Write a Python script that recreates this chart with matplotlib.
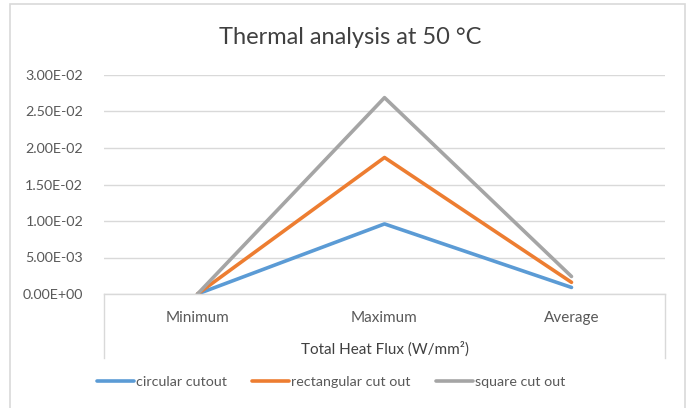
import matplotlib
matplotlib.use("Agg")
import matplotlib.pyplot as plt
from matplotlib.lines import Line2D
from matplotlib.patches import Rectangle

categories = ["Minimum", "Maximum", "Average"]
circular = [0.0, 0.0096, 0.0009]
rectangular = [0.0, 0.0187, 0.0016]
square = [0.0, 0.0269, 0.0024]
series_names = ["circular cutout", "rectangular cut out", "square cut out"]
series_colors = ["#5B9BD5", "#ED7D31", "#A5A5A5"]
yticks = [0.0, 0.005, 0.01, 0.015, 0.02, 0.025, 0.03]
ytick_labels = ["0.00E+00", "5.00E-03", "1.00E-02", "1.50E-02",
                "2.00E-02", "2.50E-02", "3.00E-02"]

plt.rcParams["font.family"] = ["Lato", "DejaVu Sans"]
W, H = 690, 408
grid_c = "#D9D9D9"
text_c = "#595959"

fig = plt.figure(figsize=(W / 100, H / 100), dpi=100)

def fx(px):
    return px / W

def fy(py):
    return 1 - py / H

# outer chart frame
fig.add_artist(Rectangle((fx(10), fy(412)), fx(685) - fx(10), fy(4) - fy(412),
                         transform=fig.transFigure, fill=False,
                         edgecolor=grid_c, lw=1.2))

left, right, top, bottom = 104, 665, 75, 294
ax = fig.add_axes([fx(left), fy(bottom), fx(right) - fx(left), fy(top) - fy(bottom)])

x = range(len(categories))
for vals, name, c in zip([circular, rectangular, square], series_names, series_colors):
    ax.plot(x, vals, color=c, lw=2.6, label=name, solid_capstyle="round")

ax.set_xlim(-0.5, 2.5)
ax.set_ylim(0, 0.03)
ax.set_yticks(yticks)
ax.set_yticklabels(ytick_labels, fontsize=10.3, color=text_c)
ax.set_xticks(list(x))
ax.set_xticklabels(categories, fontsize=11, color=text_c)
ax.tick_params(axis="both", length=0)
ax.tick_params(axis="y", pad=15)
ax.tick_params(axis="x", pad=12)
ax.grid(axis="y", color=grid_c, lw=1)
ax.set_axisbelow(True)
for s in ["left", "right", "top"]:
    ax.spines[s].set_visible(False)
ax.spines["bottom"].set_color(grid_c)
ax.spines["bottom"].set_linewidth(1)

# category axis box below the plot
for px in (left, right):
    fig.add_artist(Line2D([fx(px), fx(px)], [fy(bottom), fy(358)],
                          transform=fig.transFigure, color=grid_c, lw=1))

fig.text(fx(385), fy(349), "Total Heat Flux (W/mm²)", ha="center", va="center",
         fontsize=11, color="#404040")
fig.text(fx(350), fy(38), "Thermal analysis at 50 °C", ha="center", va="center",
         fontsize=17, color="#404040")

fig.legend(loc="center", bbox_to_anchor=(fx(331), fy(382)), ncol=3, frameon=False,
           fontsize=10.3, handlelength=2.6, handletextpad=0.1, columnspacing=1.8,
           labelcolor=text_c)

fig.savefig("out.png", dpi=100)
